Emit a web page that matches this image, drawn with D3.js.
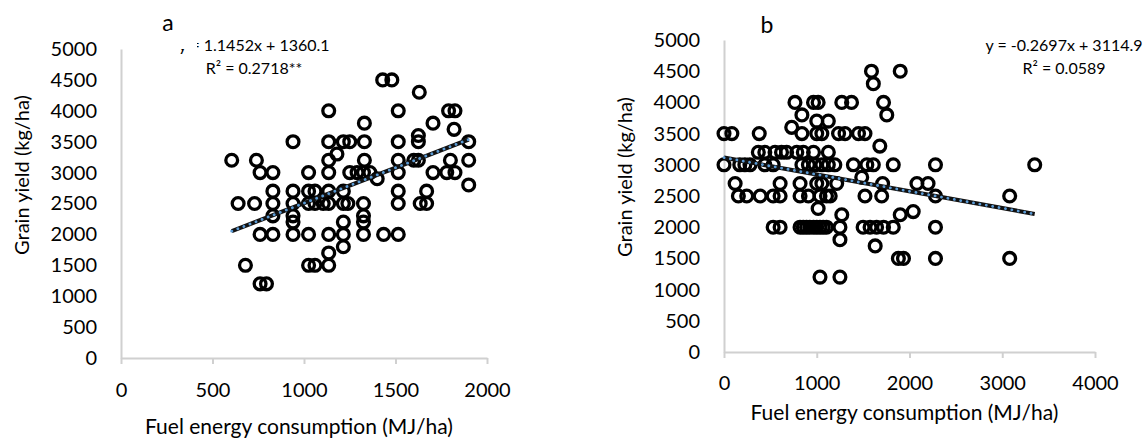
<!DOCTYPE html>
<html>
<head>
<meta charset="utf-8">
<script src="https://cdn.jsdelivr.net/npm/d3@7"></script>
<style>
  body { margin: 0; background: #fff; }
  svg { display: block; font-family: Lato, sans-serif; }
</style>
</head>
<body>
<svg width="1148" height="439"></svg>
<script>
// fuel energy (MJ/ha) vs grain yield (kg/ha)
const pointsA = [
  [1430,4500],[1480,4500],[1630,4300],
  [1135,4000],[1515,4000],[1790,4000],[1825,4000],
  [1330,3800],[1705,3800],[1820,3700],[1625,3600],
  [940,3500],[1135,3500],[1215,3500],[1250,3500],[1330,3500],[1515,3500],[1625,3500],[1900,3500],
  [1180,3300],
  [605,3200],[740,3200],[1135,3200],[1330,3200],[1515,3200],[1600,3200],[1625,3200],[1800,3200],[1900,3200],
  [760,3000],[830,3000],[1025,3000],[1135,3000],[1250,3000],[1290,3000],[1325,3000],[1360,3000],[1515,3000],[1705,3000],[1780,3000],[1825,3000],
  [1400,2900],[1900,2800],
  [830,2700],[940,2700],[1025,2700],[1060,2700],[1135,2700],[1215,2700],[1515,2700],[1670,2700],
  [640,2500],[730,2500],[830,2500],[940,2500],[1025,2500],[1060,2500],[1105,2500],[1135,2500],[1215,2500],[1240,2500],[1325,2500],[1515,2500],[1635,2500],[1670,2500],
  [830,2300],[940,2300],[1325,2300],
  [940,2200],[1215,2200],[1325,2200],
  [760,2000],[830,2000],[940,2000],[1025,2000],[1135,2000],[1215,2000],[1325,2000],[1435,2000],[1515,2000],
  [1215,1800],[1135,1700],
  [680,1500],[1025,1500],[1060,1500],[1135,1500],
  [760,1200],[795,1200]
];

const pointsB = [
  [1590,4500],[1900,4500],[1610,4300],
  [765,4000],[965,4000],[1015,4000],[1270,4000],[1375,4000],[1720,4000],
  [840,3800],[1755,3800],[1000,3700],[1125,3700],[730,3600],
  [0,3500],[85,3500],[380,3500],[840,3500],[1000,3500],[1055,3500],[1235,3500],[1305,3500],[1450,3500],[1520,3500],
  [1680,3300],
  [370,3200],[440,3200],[550,3200],[620,3200],[675,3200],[785,3200],[855,3200],[965,3200],[1125,3200],
  [0,3000],[170,3000],[225,3000],[280,3000],[440,3000],[530,3000],[840,3000],[910,3000],[980,3000],[1055,3000],[1125,3000],[1195,3000],[1395,3000],[1540,3000],[1610,3000],[1825,3000],[2280,3000],[3350,3000],
  [1485,2800],
  [120,2700],[605,2700],[820,2700],[1000,2700],[1055,2700],[1215,2700],[1710,2700],[2080,2700],[2200,2700],
  [155,2500],[245,2500],[390,2500],[530,2500],[605,2500],[820,2500],[910,2500],[1035,2500],[1105,2500],[1145,2500],[1520,2500],[1700,2500],[2280,2500],[3080,2500],
  [1015,2300],[2040,2250],[1270,2200],[1900,2200],
  [530,2000],[605,2000],[820,2000],[855,2000],[890,2000],[925,2000],[965,2000],[1000,2000],[1035,2000],[1070,2000],[1105,2000],[1250,2000],[1500,2000],[1575,2000],[1645,2000],[1720,2000],[1825,2000],[2280,2000],
  [1250,1800],[1630,1700],
  [1880,1500],[1935,1500],[2280,1500],[3080,1500],
  [1035,1200],[1250,1200]
];

const yTicks = [0, 500, 1000, 1500, 2000, 2500, 3000, 3500, 4000, 4500, 5000];
const xTicksA = [0, 500, 1000, 1500, 2000];
const xTicksB = [0, 1000, 2000, 3000, 4000];

// trend lines as printed on the figure
const fitA = { slope: 1.1452, intercept: 1360.1, eq: 'y = 1.1452x + 1360.1', r2: 'R² = 0.2718**' };
const fitB = { slope: -0.2697, intercept: 3114.9, eq: 'y = -0.2697x + 3114.9', r2: 'R² = 0.0589' };

const svg = d3.select('svg');
const fmt = d3.format('d');

const panels = [
  { label: 'a', pts: pointsA, xTicks: xTicksA, xMax: 2000, fit: fitA,
    left: 121, right: 487, top: 49, bottom: 358, labelPad: 19,
    tag: [168, 23], eqPos: [254, 45], yTitle: [22, 175], xTitleY: 427 },
  { label: 'b', pts: pointsB, xTicks: xTicksB, xMax: 4000, fit: fitB,
    left: 724, right: 1095, top: 40, bottom: 352, labelPad: 18,
    tag: [767, 25], eqPos: [1064, 45], yTitle: [625, 177], xTitleY: 413 }
];

panels.forEach(p => {
  const x = d3.scaleLinear().domain([0, p.xMax]).range([p.left, p.right]);
  const y = d3.scaleLinear().domain([0, 5000]).range([p.bottom, p.top]);
  const g = svg.append('g');

  // y axis
  const ya = g.append('g')
    .attr('transform', `translate(${p.left},0)`)
    .call(d3.axisLeft(y).tickValues(yTicks).tickFormat(fmt).tickSize(0).tickPadding(24));
  ya.select('.domain').attr('stroke', '#d0d0d0').attr('stroke-width', 2);
  ya.selectAll('text').attr('font-size', 20).attr('fill', '#000').attr('font-family', 'Lato, sans-serif');

  // x axis
  const xa = g.append('g')
    .attr('transform', `translate(0,${p.bottom})`)
    .call(d3.axisBottom(x).tickValues(p.xTicks).tickFormat(fmt).tickSizeInner(6).tickSizeOuter(0).tickPadding(p.labelPad));
  xa.select('.domain').attr('stroke', '#d0d0d0').attr('stroke-width', 2);
  xa.selectAll('line').attr('stroke', '#d0d0d0').attr('stroke-width', 2);
  xa.selectAll('text').attr('font-size', 20).attr('fill', '#000').attr('font-family', 'Lato, sans-serif');

  // points
  g.append('g').selectAll('circle')
    .data(p.pts)
    .join('circle')
    .attr('cx', d => x(d[0]))
    .attr('cy', d => y(d[1]))
    .attr('r', 5.9)
    .attr('fill', 'none')
    .attr('stroke', '#000')
    .attr('stroke-width', 3.3);

  // linear trend line over the data range
  const ext = d3.extent(p.pts, d => d[0]);
  const trend = ext.map(v => [x(v), y(p.fit.slope * v + p.fit.intercept)]);
  const line = d3.line();
  g.append('path').attr('d', line(trend))
    .attr('stroke', '#111').attr('stroke-width', 4.2).attr('fill', 'none');
  g.append('path').attr('d', line(trend))
    .attr('stroke', '#5b9bd5').attr('stroke-width', 2.8).attr('fill', 'none')
    .attr('stroke-linecap', 'round').attr('stroke-dasharray', '0.1,6.4');

  // equation
  const eq = g.append('text')
    .attr('x', p.eqPos[0]).attr('y', p.eqPos[1])
    .attr('text-anchor', 'middle').attr('font-size', 16);
  eq.append('tspan').attr('x', p.eqPos[0]).attr('dy', '0.35em').text(p.fit.eq);
  eq.append('tspan').attr('x', p.eqPos[0]).attr('dy', 23).text(p.fit.r2);

  // panel tag
  g.append('text').attr('x', p.tag[0]).attr('y', p.tag[1]).attr('dy', '0.35em')
    .attr('text-anchor', 'middle').attr('font-size', 23).text(p.label);

  // axis titles
  g.append('text')
    .attr('transform', `translate(${p.yTitle[0]},${p.yTitle[1]}) rotate(-90)`)
    .attr('text-anchor', 'middle').attr('dy', '0.35em').attr('font-size', 20)
    .text('Grain yield (kg/ha)');
  g.append('text')
    .attr('x', (p.left + p.right) / 2 - 5).attr('y', p.xTitleY).attr('dy', '0.35em')
    .attr('text-anchor', 'middle').attr('font-size', 21)
    .text('Fuel energy consumption (MJ/ha)');
});

// panel a: the start of the equation is partly hidden in the original figure
svg.append('rect').attr('x', 170).attr('y', 30).attr('width', 27).attr('height', 19).attr('fill', '#fff');
</script>
</body>
</html>
